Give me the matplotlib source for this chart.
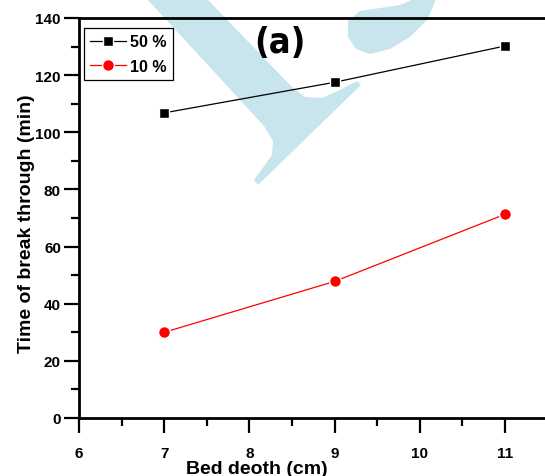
import matplotlib
matplotlib.use("Agg")
import matplotlib.pyplot as plt
import matplotlib.transforms as mtransforms
from matplotlib import font_manager
from matplotlib.patches import Polygon
from matplotlib.ticker import MultipleLocator

depth = [7, 9, 11]
t50 = [106.8, 117.5, 130.2]
t10 = [30.0, 47.8, 71.3]
series_labels = ["50 %", "10 %"]
xticks = [6, 7, 8, 9, 10, 11]
yticks = [0, 20, 40, 60, 80, 100, 120, 140]

W, H = 545, 477
plt.rcParams['font.family'] = ['Liberation Sans', 'DejaVu Sans']
fig = plt.figure(figsize=(W / 100, H / 100), dpi=100)

# find a condensed bold font for the panel tag, if any
narrow_file = None
for f in font_manager.fontManager.ttflist:
    nm = (f.name + ' ' + str(f.fname)).lower()
    if ('narrow' in nm or 'condensed' in nm) and 'bold' in str(f.fname).lower() \
            and 'oblique' not in nm and 'italic' not in nm:
        if 'liberation' in nm:
            narrow_file = f.fname
            break
        if narrow_file is None:
            narrow_file = f.fname

# watermark (pixel coords, origin top-left)
pix = mtransforms.Affine2D().scale(1 / W, -1 / H).translate(0, 1) + fig.transFigure
wm = '#c8e5ed'
stroke = [(147, 0), (207, 0), (292, 88), (305, 98), (322, 99), (340, 91), (357, 82),
          (361, 86), (258, 186), (254, 181), (272, 156), (273, 142), (264, 127)]
blob = [(348, 22), (360, 12), (380, 9), (400, 6), (414, 0), (436, 0), (428, 20),
        (410, 38), (390, 50), (370, 55), (356, 50), (348, 38)]
for pts in (stroke, blob):
    fig.patches.append(Polygon(pts, closed=True, transform=pix, facecolor=wm,
                               edgecolor='none', zorder=-5))

left = 79 / W
bottom = (H - 419) / H
top = (H - 19) / H
axw = 6 * 85.2
ax = fig.add_axes([left, bottom, axw / W, top - bottom])
ax.patch.set_alpha(0)

ax.plot(depth, t50, color='black', lw=0.9, marker='s', ms=7.5, mfc='black',
        mec='white', mew=1.0, label=series_labels[0], zorder=3)
ax.plot(depth, t10, color='red', lw=0.9, marker='o', ms=8.5, mfc='red',
        mec='white', mew=1.0, label=series_labels[1], zorder=3)

ax.set_xlim(6, 12)
ax.set_ylim(0, 140)
ax.set_xticks(xticks)
ax.set_yticks(yticks)
ax.xaxis.set_minor_locator(MultipleLocator(0.5))
ax.yaxis.set_minor_locator(MultipleLocator(10))
for s in ax.spines.values():
    s.set_linewidth(2.0)
ax.tick_params(which='major', direction='out', length=11, width=1.6,
               labelsize=11)
ax.tick_params(which='minor', direction='out', length=5.5, width=1.6)
ax.tick_params(axis='x', which='major', pad=9)
ax.tick_params(axis='y', which='major', pad=2)
for lab in ax.get_xticklabels() + ax.get_yticklabels():
    lab.set_fontweight('bold')

ax.set_xlabel('Bed deoth (cm)', fontsize=14, fontweight='bold')
ax.xaxis.set_label_coords((257 - 79) / axw, -(461 - 419) / 400)
ax.set_ylabel('Time of break through (min)', fontsize=14, fontweight='bold')
ax.yaxis.set_label_coords(-(79 - 35) / axw, (419 - 224) / 400)

if narrow_file:
    tag_font = font_manager.FontProperties(fname=narrow_file, size=26)
else:
    tag_font = font_manager.FontProperties(family='Liberation Sans', weight='bold', size=25)
ax.text((280 - 79) / axw, (419 - 43) / 400, '(a)', transform=ax.transAxes,
        ha='center', va='center', fontproperties=tag_font)

leg = ax.legend(loc='upper left', bbox_to_anchor=((84 - 79) / axw, (419 - 29) / 400),
                frameon=True, fancybox=False, edgecolor='black', framealpha=1,
                prop={'weight': 'bold', 'size': 11.5}, handlelength=2.2,
                borderpad=0.4, labelspacing=0.6, handletextpad=0.3,
                borderaxespad=0)
leg.get_frame().set_linewidth(0.9)

fig.savefig('out.png', dpi=100)
